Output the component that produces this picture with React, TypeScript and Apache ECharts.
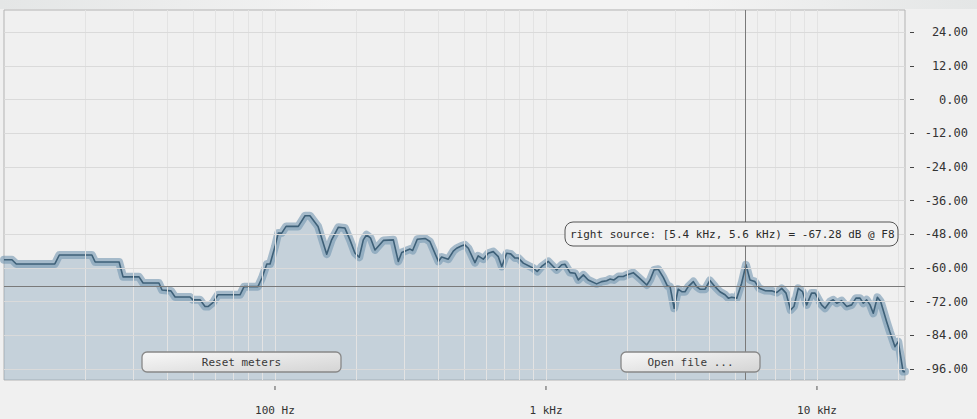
import React, { useEffect, useRef } from "react";
import * as echarts from "echarts";

// Spectrum (frequency in Hz, level in dB)
const freqHz = [
  10, 10.7, 11.1, 15.4, 16.0, 21.1, 21.7, 26.6, 27.5, 31.5, 32.6, 37.3, 38.3, 41.3, 42.8, 48.6,
  49.8, 52.9, 55.2, 56.6, 59.0, 61.6, 74.3, 76.9, 86.5, 89.5, 93.3, 95.9, 100, 102.8,
  105.9, 109.9, 121.9, 129.1, 134.6, 144.2, 155.2, 161.8, 171.4, 181.2, 189.1, 197.2, 204.6, 211.8,
  217.8, 225.4, 233.9, 251.2, 273.4, 285.1, 293.6, 315, 322, 335, 358, 373, 401, 412,
  436, 455, 468, 489, 502, 517, 547, 562, 587, 612, 639, 667, 687, 716,
  741, 769, 791, 825, 873, 898, 929, 964, 1021, 1064, 1095, 1143, 1175, 1227,
  1280, 1316, 1374, 1432, 1538, 1604, 1675, 1722, 1782, 1849, 1928, 1985, 2100, 2193,
  2286, 2355, 2421, 2506, 2597, 2710, 2805, 2871, 2972, 3076, 3170, 3258, 3350, 3499,
  3597, 3700, 3864, 4027, 4207, 4385, 4580, 4710, 4842, 5058, 5272, 5470, 5662, 5902,
  6124, 6427, 6808, 7096, 7413, 7691, 7998, 8222, 8531, 8851, 9162, 9550, 9840, 10400,
  10715, 11170, 11480, 11830, 12330, 12880, 13430, 13930, 14420, 14830, 15250, 15700, 16140, 16710,
  17180, 18080, 18580, 19410, 19950, 20800, 21130,
];
const levelDb = [
  -57.1, -57.1, -58.6, -58.6, -55.4, -55.4, -57.9, -57.9, -63.2, -63.2, -65.4, -65.4, -67.9, -68.2, -70.4, -70.4,
  -71.4, -71.4, -73.8, -73.8, -72.4, -69.6, -69.6, -66.7, -66.7, -63.6, -58.6, -58.6, -52.4, -47.6,
  -47.6, -45.2, -45.2, -41.4, -41.4, -45.2, -55.1, -50, -45.5, -45.8, -50, -54.7, -56.2, -50,
  -48.2, -49.4, -53.6, -50.2, -50, -57.7, -54.5, -53.3, -53.8, -49.8, -49.5, -50.6, -57.7, -56.1,
  -56.9, -54, -53, -52.1, -51.8, -53, -58.1, -55.7, -56.9, -54.8, -54.2, -56, -59.5, -54.8,
  -55, -56.5, -56.5, -58.3, -59.5, -60.1, -61.3, -59.5, -57.7, -59.5, -60.7, -58.9, -58.7, -61.7,
  -61.9, -64.3, -62.5, -64.3, -65.7, -64.9, -64.6, -64, -64.3, -63.1, -63.1, -62.5, -61.7, -63.3,
  -64.9, -66.1, -64.3, -60.7, -60.5, -63.4, -66.4, -66.7, -74.4, -67.6, -68.5, -68.5, -66.7, -64.9,
  -66.7, -67.6, -67.6, -64.5, -66.7, -68.5, -69.6, -70.8, -70.5, -70.8, -65.5, -58.9, -64.3, -64.9,
  -67.3, -68.1, -68.2, -68.8, -67.3, -69, -75, -73.8, -67.3, -68.5, -73.2, -69, -69, -73.2,
  -74.4, -72, -71.4, -72.6, -71.7, -73.8, -73.2, -70.8, -70.8, -72.6, -71.4, -73.2, -76.2, -70.5,
  -72, -79.2, -82.8, -88.1, -86.3, -97, -97,
];

const yTicks = [-96, -84, -72, -60, -48, -36, -24, -12, 0, 12, 24];
const xTicks = [100, 1000, 10000];
const xTickLabels: Record<number, string> = { 100: "100 Hz", 1000: "1 kHz", 10000: "10 kHz" };
const xGridFreqs = [
  20, 30, 40, 50, 60, 70, 80, 90, 100,
  200, 300, 400, 500, 600, 700, 800, 900, 1000,
  2000, 3000, 4000, 5000, 6000, 7000, 8000, 9000, 10000, 20000,
];
const cursorFreq = 5450;
const cursorDb = -66.6;
const readoutText = "right source: [5.4 kHz, 5.6 kHz) = -67.28 dB @ F8";
const buttonLabels = ["Reset meters", "Open file ..."];

const MONO = "'DejaVu Sans Mono', 'Liberation Mono', monospace";

function button(label: string, x: number, w: number) {
  return {
    type: "group",
    x,
    y: 352,
    children: [
      {
        type: "rect",
        z: 100,
        shape: { x: 0, y: 0, width: w, height: 20, r: 5 },
        style: {
          fill: new echarts.graphic.LinearGradient(0, 0, 1, 1, [
            { offset: 0, color: "#f8f8f8" },
            { offset: 1, color: "#d4d4d4" },
          ]),
          stroke: "#888",
          lineWidth: 1.3,
        },
      },
      {
        type: "text",
        z: 101,
        x: w / 2,
        y: 10.5,
        style: {
          text: label,
          fill: "#3a3a3a",
          font: `11px ${MONO}`,
          textAlign: "center",
          textVerticalAlign: "middle",
        },
      },
    ],
  };
}

export default function App() {
  const ref = useRef<HTMLDivElement>(null);

  useEffect(() => {
    document.body.style.margin = "0";
    document.body.style.background = "#f0f0f0";
    const chart = echarts.init(ref.current!, undefined, { renderer: "svg" });
    const data = freqHz.map((f, i) => [f, levelDb[i]]);

    const xBase = {
      type: "log",
      logBase: 10,
      min: 10,
      max: 21130,
      position: "bottom",
      axisLine: { show: false },
      axisTick: { show: false },
      splitLine: { show: false },
      minorSplitLine: { show: false },
    };

    chart.setOption({
      animation: false,
      backgroundColor: "#f0f0f0",
      grid: {
        left: 4,
        right: 72,
        top: 10,
        bottom: 39,
        show: true,
        backgroundColor: "#f0f0f0",
        borderColor: "#b3b3b3",
        borderWidth: 1,
      },
      xAxis: [
        {
          ...xBase,
          offset: 5,
          axisLabel: {
            customValues: xTicks,
            margin: 20,
            formatter: (v: number) => xTickLabels[Math.round(v)] ?? "",
            fontFamily: MONO,
            fontSize: 11,
            color: "#333",
          },
        },
        {
          // small tick marks under the decade labels
          ...xBase,
          offset: 5,
          axisLabel: {
            customValues: xTicks,
            margin: 1,
            formatter: () => " ",
            fontSize: 4,
            lineHeight: 4,
            width: 1,
            height: 4,
            padding: 0,
            backgroundColor: "#555",
          },
        },
      ],
      yAxis: {
        type: "value",
        position: "right",
        min: -100,
        max: 32,
        offset: 5,
        axisLine: { show: false },
        axisTick: { show: true, length: 4, customValues: yTicks, lineStyle: { color: "#444" } },
        axisLabel: {
          customValues: yTicks,
          formatter: (v: number) => v.toFixed(2),
          align: "right",
          margin: 58,
          fontFamily: MONO,
          fontSize: 12,
          color: "#333",
        },
        splitLine: { show: false },
      },
      series: [
        {
          type: "line",
          data: [],
          z: 1,
          silent: true,
          markLine: {
            silent: true,
            symbol: ["none", "none"],
            label: { show: false },
            animation: false,
            data: [
              ...xGridFreqs.map((f) => ({ xAxis: f, lineStyle: { color: "#e3e3e3", width: 1, type: "solid" } })),
              ...yTicks.map((v) => ({ yAxis: v, lineStyle: { color: "#dadada", width: 1, type: "solid" } })),
            ],
          },
        },
        {
          type: "line",
          data,
          z: 2,
          showSymbol: false,
          silent: true,
          lineStyle: { width: 8, color: "rgba(115,150,176,0.6)", join: "round", cap: "round" },
          areaStyle: { color: "rgba(145,170,190,0.45)", opacity: 1, origin: "start" },
        },
        {
          type: "line",
          data,
          z: 3,
          showSymbol: false,
          silent: true,
          lineStyle: { width: 1.6, color: "#3e6078", join: "round" },
          markLine: {
            silent: true,
            symbol: ["none", "none"],
            label: { show: false },
            lineStyle: { color: "#7a7a7a", width: 1, type: "solid" },
            data: [{ xAxis: cursorFreq }, { yAxis: cursorDb }],
          },
        },
      ],
      graphic: [
        {
          type: "rect",
          shape: { x: 0, y: 0, width: 977, height: 9 },
          z: 0,
          style: {
            fill: new echarts.graphic.LinearGradient(0, 0, 1, 0, [
              { offset: 0, color: "#e4e6e6" },
              { offset: 0.35, color: "#f3f3f3" },
              { offset: 0.7, color: "#f3f3f3" },
              { offset: 1, color: "#e4e6e6" },
            ]),
          },
        },
        {
          type: "group",
          x: 565,
          y: 222,
          children: [
            {
              type: "rect",
              z: 100,
              shape: { x: 0, y: 0, width: 333, height: 24, r: 8 },
              style: { fill: "#f1f1f1", stroke: "#555", lineWidth: 1 },
            },
            {
              type: "text",
              z: 101,
              x: 5,
              y: 12.5,
              style: {
                text: readoutText,
                fill: "#2a2a2a",
                font: `11px ${MONO}`,
                textAlign: "left",
                textVerticalAlign: "middle",
              },
            },
          ],
        },
        button(buttonLabels[0], 142, 199),
        button(buttonLabels[1], 621, 139),
      ],
    });
    return () => chart.dispose();
  }, []);

  return (
    <div
      ref={ref}
      style={{ position: "absolute", left: 0, top: 0, width: 977, height: 419, background: "#f0f0f0" }}
    />
  );
}
